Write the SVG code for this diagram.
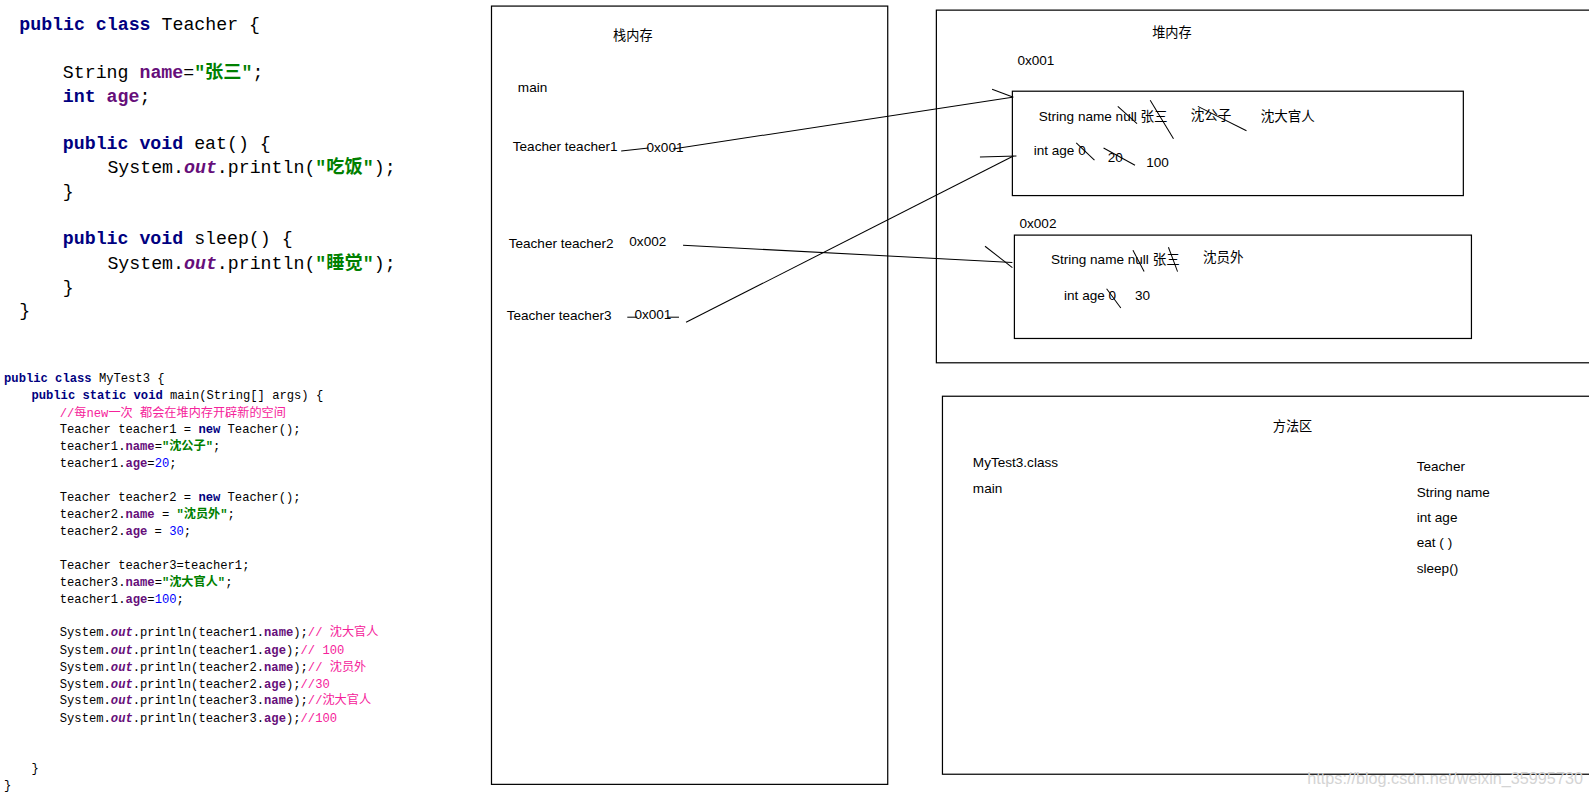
<svg xmlns="http://www.w3.org/2000/svg" width="1589" height="794" viewBox="0 0 1589 794">
<style>
.bg{fill:#ffffff}
.box{fill:none;stroke:#000;stroke-width:1.2}
.ln{stroke:#000;stroke-width:1;fill:none}
.t{font-family:"Liberation Sans","Noto Sans CJK SC",sans-serif;font-size:13.4px;fill:#000}
.cj{font-family:"Noto Sans CJK SC","Liberation Sans",sans-serif;font-size:13px;fill:#000}
.code1{font-family:"Liberation Mono","Noto Sans CJK SC",monospace;font-size:18px;fill:#000}
.code2{font-family:"Liberation Mono","Noto Sans CJK SC",monospace;font-size:12px;fill:#000}
.k{fill:#000080;font-weight:bold}
.f{fill:#660E7A;font-weight:bold}
.s{fill:#008000;font-weight:bold}
.o{fill:#660E7A;font-weight:bold;font-style:italic}
.n{fill:#0000FF}
.c{fill:#F5229A}
.wm{font-family:"Liberation Sans",sans-serif;font-size:16px;fill:#d4d4d4}
</style>
<rect class="bg" x="0" y="0" width="1589" height="794"/>
<g id="page" transform="scale(1.01339)">

<g id="code-teacher" class="code1">
<text x="19" y="30"><tspan class="k">public class</tspan> Teacher {</text>
<text x="62" y="77">String <tspan class="f">name</tspan>=<tspan class="s">"张三"</tspan>;</text>
<text x="62" y="101"><tspan class="k">int</tspan> <tspan class="f">age</tspan>;</text>
<text x="62" y="147"><tspan class="k">public void</tspan> eat() {</text>
<text x="106" y="171">System.<tspan class="o">out</tspan>.println(<tspan class="s">"吃饭"</tspan>);</text>
<text x="62" y="194">}</text>
<text x="62" y="241"><tspan class="k">public void</tspan> sleep() {</text>
<text x="106" y="265">System.<tspan class="o">out</tspan>.println(<tspan class="s">"睡觉"</tspan>);</text>
<text x="62" y="289">}</text>
<text x="19" y="312">}</text>
</g>

<g id="code-mytest3" class="code2">
<text x="4" y="377"><tspan class="k">public class</tspan> MyTest3 {</text>
<text x="31" y="394"><tspan class="k">public static void</tspan> main(String[] args) {</text>
<text x="59" y="411" class="c">//每new一次 都会在堆内存开辟新的空间</text>
<text x="59" y="427">Teacher teacher1 = <tspan class="k">new</tspan> Teacher();</text>
<text x="59" y="444">teacher1.<tspan class="f">name</tspan>=<tspan class="s">"沈公子"</tspan>;</text>
<text x="59" y="461">teacher1.<tspan class="f">age</tspan>=<tspan class="n">20</tspan>;</text>
<text x="59" y="494">Teacher teacher2 = <tspan class="k">new</tspan> Teacher();</text>
<text x="59" y="511">teacher2.<tspan class="f">name</tspan> = <tspan class="s">"沈员外"</tspan>;</text>
<text x="59" y="528">teacher2.<tspan class="f">age</tspan> = <tspan class="n">30</tspan>;</text>
<text x="59" y="561">Teacher teacher3=teacher1;</text>
<text x="59" y="578">teacher3.<tspan class="f">name</tspan>=<tspan class="s">"沈大官人"</tspan>;</text>
<text x="59" y="595">teacher1.<tspan class="f">age</tspan>=<tspan class="n">100</tspan>;</text>
<text x="59" y="628">System.<tspan class="o">out</tspan>.println(teacher1.<tspan class="f">name</tspan>);<tspan class="c">// 沈大官人</tspan></text>
<text x="59" y="645">System.<tspan class="o">out</tspan>.println(teacher1.<tspan class="f">age</tspan>);<tspan class="c">// 100</tspan></text>
<text x="59" y="662">System.<tspan class="o">out</tspan>.println(teacher2.<tspan class="f">name</tspan>);<tspan class="c">// 沈员外</tspan></text>
<text x="59" y="679">System.<tspan class="o">out</tspan>.println(teacher2.<tspan class="f">age</tspan>);<tspan class="c">//30</tspan></text>
<text x="59" y="695">System.<tspan class="o">out</tspan>.println(teacher3.<tspan class="f">name</tspan>);<tspan class="c">//沈大官人</tspan></text>
<text x="59" y="712">System.<tspan class="o">out</tspan>.println(teacher3.<tspan class="f">age</tspan>);<tspan class="c">//100</tspan></text>
<text x="31" y="762">}</text>
<text x="4" y="779">}</text>
</g>

<g id="stack">
<rect class="box" x="485" y="6" width="391" height="768"/>
<text class="cj" x="605" y="39">栈内存</text>
<text class="t" x="511" y="91">main</text>
<text class="t" x="506" y="149">Teacher teacher1</text>
<text class="t" x="638" y="150">0x001</text>
<text class="t" x="502" y="245">Teacher teacher2</text>
<text class="t" x="621" y="243">0x002</text>
<text class="t" x="500" y="316">Teacher teacher3</text>
<text class="t" x="626" y="315">0x001</text>
</g>

<g id="heap">
<rect class="box" x="924" y="10" width="680" height="348"/>
<text class="cj" x="1137" y="37">堆内存</text>
<text class="t" x="1004" y="64">0x001</text>
<text class="t" x="1006" y="225">0x002</text>
</g>

<g id="heap-obj1">
<rect class="box" x="999" y="90" width="445" height="103"/>
<text class="t" x="1025" y="119">String name null 张三</text>
<text class="t" x="1175" y="118">沈公子</text>
<text class="t" x="1244" y="119">沈大官人</text>
<text class="t" x="1020" y="153">int age 0</text>
<text class="t" x="1093" y="160">20</text>
<text class="t" x="1131" y="165">100</text>
<line class="ln" x1="1103" y1="105" x2="1122" y2="122"/>
<line class="ln" x1="1135" y1="99" x2="1158" y2="137"/>
<line class="ln" x1="1182" y1="105" x2="1230" y2="129"/>
<line class="ln" x1="1062" y1="141" x2="1080" y2="158"/>
<line class="ln" x1="1089" y1="146" x2="1120" y2="163"/>
</g>

<g id="heap-obj2">
<rect class="box" x="1001" y="232" width="451" height="102"/>
<text class="t" x="1037" y="261">String name null 张三</text>
<text class="t" x="1187" y="259">沈员外</text>
<text class="t" x="1050" y="296">int age 0</text>
<text class="t" x="1120" y="296">30</text>
<line class="ln" x1="1118" y1="247" x2="1129" y2="268"/>
<line class="ln" x1="1153" y1="244" x2="1162" y2="268"/>
<line class="ln" x1="1092" y1="285" x2="1106" y2="304"/>
</g>

<g id="method-area">
<rect class="box" x="930" y="391" width="680" height="373"/>
<text class="cj" x="1256" y="425">方法区</text>
<text class="t" x="960" y="461">MyTest3.class</text>
<text class="t" x="960" y="486">main</text>
<text class="t" x="1398" y="465">Teacher</text>
<text class="t" x="1398" y="490">String name</text>
<text class="t" x="1398" y="515">int age</text>
<text class="t" x="1398" y="540">eat ( )</text>
<text class="t" x="1398" y="565">sleep()</text>
</g>

<g id="connectors">
<line class="ln" x1="613" y1="149" x2="640" y2="146"/>
<line class="ln" x1="664" y1="147" x2="999" y2="96"/>
<line class="ln" x1="979" y1="88" x2="1000" y2="96"/>
<line class="ln" x1="674" y1="242" x2="999" y2="259"/>
<line class="ln" x1="972" y1="243" x2="999" y2="264"/>
<line class="ln" x1="619" y1="313" x2="629" y2="313"/>
<line class="ln" x1="659" y1="313" x2="670" y2="313"/>
<line class="ln" x1="677" y1="318" x2="1000" y2="154"/>
<line class="ln" x1="967" y1="155" x2="1003" y2="154"/>
</g>

<text class="wm" x="1290" y="774">https://blog.csdn.net/weixin_35995730</text>
</g>
</svg>
